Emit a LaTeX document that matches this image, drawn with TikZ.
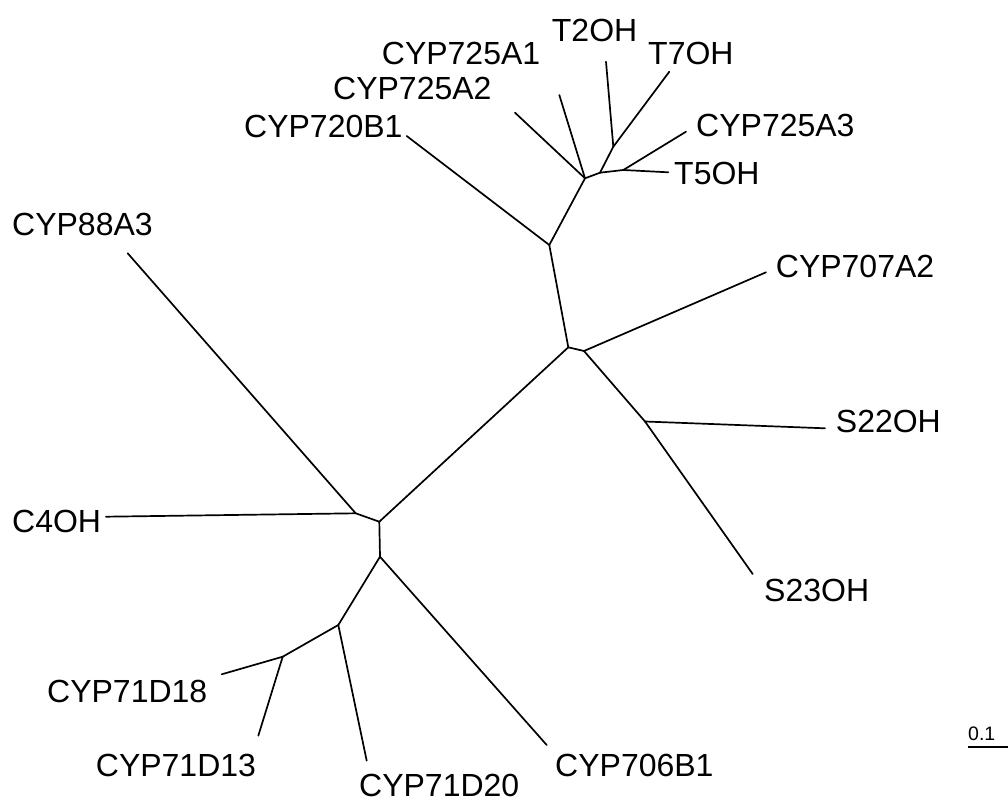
\documentclass[tikz,border=0pt]{standalone}
\usepackage{fontspec}
\setmainfont{Liberation Sans}
\begin{document}
\begin{tikzpicture}[x=1pt,y=-1pt,
  br/.style={line width=1.7pt,line cap=round,line join=round},
  lab/.style={anchor=base west,inner sep=0pt,font=\fontsize{32}{32}\selectfont},
  sc/.style={anchor=base west,inner sep=0pt,font=\fontsize{19.5}{19.5}\selectfont}]
\useasboundingbox (0,0) rectangle (1008,802);
% internal nodes
\coordinate (n1) at (355.7,513.3);
\coordinate (n2) at (379.3,521.7);
\coordinate (n3) at (380,556.7);
\coordinate (m1) at (568.3,347.3);
\coordinate (m2) at (584,351);
\coordinate (s) at (645,421.5);
\coordinate (a1) at (549.3,245);
\coordinate (a2) at (585,178.3);
\coordinate (a3) at (600,172.7);
\coordinate (a4) at (613.3,146.7);
\coordinate (a5) at (623.3,170);
\coordinate (b1) at (338.3,625);
\coordinate (b2) at (282.7,656.7);
% tips
\coordinate (t88) at (127.7,253.3);
\coordinate (tc4) at (106,516.7);
\coordinate (t720) at (406.7,136);
\coordinate (t725a2) at (515,112.7);
\coordinate (t725a1) at (559.3,95);
\coordinate (tt2) at (606,61.7);
\coordinate (tt7) at (669.3,71.7);
\coordinate (t725a3) at (686,131.7);
\coordinate (tt5) at (668.3,172.3);
\coordinate (t707) at (766,272.3);
\coordinate (ts22) at (825,428.3);
\coordinate (ts23) at (752.7,574);
\coordinate (t706) at (546.7,745);
\coordinate (t71d20) at (366.7,760.7);
\coordinate (t71d18) at (221.7,674.3);
\coordinate (t71d13) at (258.3,735.7);
% branches
\draw[br] (t88) -- (n1);
\draw[br] (tc4) -- (n1);
\draw[br] (n1) -- (n2);
\draw[br] (n2) -- (m1);
\draw[br] (n2) -- (n3);
\draw[br] (m1) -- (m2);
\draw[br] (m1) -- (a1);
\draw[br] (a1) -- (t720);
\draw[br] (a1) -- (a2);
\draw[br] (a2) -- (t725a2);
\draw[br] (a2) -- (t725a1);
\draw[br] (a2) -- (a3);
\draw[br] (a3) -- (a4);
\draw[br] (a3) -- (a5);
\draw[br] (a4) -- (tt2);
\draw[br] (a4) -- (tt7);
\draw[br] (a5) -- (t725a3);
\draw[br] (a5) -- (tt5);
\draw[br] (m2) -- (t707);
\draw[br] (m2) -- (s);
\draw[br] (s) -- (ts22);
\draw[br] (s) -- (ts23);
\draw[br] (n3) -- (t706);
\draw[br] (n3) -- (b1);
\draw[br] (b1) -- (t71d20);
\draw[br] (b1) -- (b2);
\draw[br] (b2) -- (t71d18);
\draw[br] (b2) -- (t71d13);
% labels
\node[lab] (l88) at (12,236) {CYP88A3};
\node[lab] (lc4) at (12,532) {C4OH};
\node[lab] (l720) at (244,137.3) {CYP720B1};
\node[lab] (l725a2) at (333,100) {CYP725A2};
\node[lab] (l725a1) at (381.7,65) {CYP725A1};
\node[lab] (lt2) at (551.7,41.7) {T2OH};
\node[lab] (lt7) at (648,65) {T7OH};
\node[lab] (l725a3) at (696,137) {CYP725A3};
\node[lab] (lt5) at (674,185) {T5OH};
\node[lab] (l707) at (775.7,277.3) {CYP707A2};
\node[lab] (ls22) at (835.7,432.7) {S22OH};
\node[lab] (ls23) at (764,601.7) {S23OH};
\node[lab] (l706) at (555,776) {CYP706B1};
\node[lab] (l71d20) at (359,796) {CYP71D20};
\node[lab] (l71d18) at (47,702.7) {CYP71D18};
\node[lab] (l71d13) at (95.7,776) {CYP71D13};
% scale bar
\node[sc] (scl) at (968,740.7) {0.1};
\coordinate (sb1) at (968.3,746.7);
\coordinate (sb2) at (1008,746.7);
\draw[line width=1.8pt] (sb1) -- (sb2);
\end{tikzpicture}
\end{document}
